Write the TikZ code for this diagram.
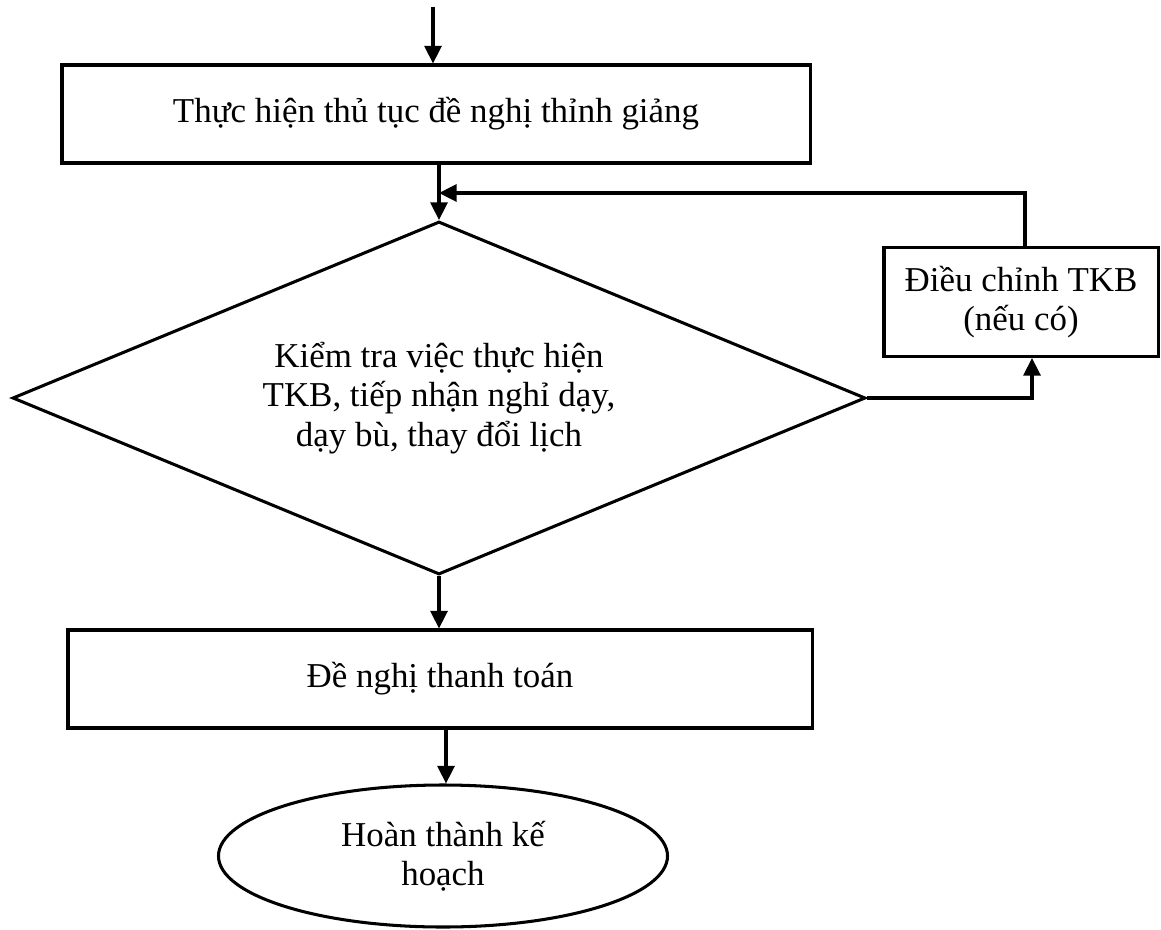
\documentclass[tikz,border=0pt]{standalone}
\usepackage{fontspec}
\setmainfont{Liberation Serif}
\usetikzlibrary{shapes.geometric,arrows.meta}

\begin{document}
\begin{tikzpicture}[x=0.03cm,y=-0.03cm,line width=2.6pt,
    every node/.style={font=\fontsize{29.8pt}{33.5pt}\selectfont,align=center},
    stepbox/.style={draw,rectangle,inner sep=0pt},
    flow/.style={-{Triangle[length=15pt,width=14.5pt]}}]
  \useasboundingbox (0,0) rectangle (1161,929);

  % steps
  \node[stepbox,minimum width=22.44cm,minimum height=2.94cm] (propose) at (436,114) {Thực hiện thủ tục đề nghị thỉnh giảng};
  \node[draw,diamond,aspect=2.4,inner sep=0pt,minimum width=25.59cm,minimum height=10.59cm] (check) at (439,398) {Kiểm tra việc thực hiện\\TKB, tiếp nhận nghỉ dạy,\\dạy bù, thay đổi lịch};
  \node[stepbox,minimum width=8.22cm,minimum height=3.27cm] (adjust) at (1021,302) {Điều chỉnh TKB\\(nếu có)};
  \node[stepbox,minimum width=22.32cm,minimum height=2.94cm] (pay) at (440,679) {Đề nghị thanh toán};
  \node[draw,ellipse,inner sep=0pt,minimum width=13.47cm,minimum height=4.26cm] (done) at (443,856) {Hoàn thành kế\\hoạch};
  \coordinate (in) at (433,7);
  \coordinate (join) at (439,193);

  % arrows
  \draw[flow] (in) -- (in |- propose.north);
  \draw[flow] (check.north |- propose.south) -- (check.north);
  \draw[flow] (check.east) -| ([xshift=0.33cm]adjust.south);
  \draw[flow] ([xshift=0.12cm]adjust.north) |- (join);
  \draw[flow] (check.south) -- (check.south |- pay.north);
  \draw[flow] ([xshift=0.09cm]done.north |- pay.south) -- ([xshift=0.09cm]done.north);
\end{tikzpicture}
\end{document}
